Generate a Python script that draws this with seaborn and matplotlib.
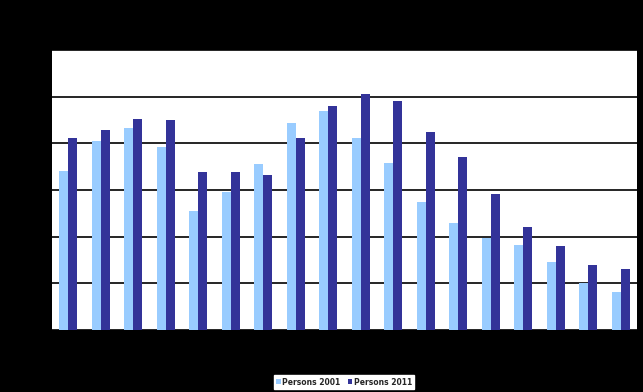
"""Age profile bar chart: persons 2001 vs 2011."""

import matplotlib.pyplot as plt
import pandas as pd
import seaborn as sns

age_groups = ['0-4', '5-9', '10-14', '15-19', '20-24', '25-29', '30-34', '35-39', '40-44',
              '45-49', '50-54', '55-59', '60-64', '65-69', '70-74', '75-79', '80-84', '85+']
persons_2001 = [3.40, 4.06, 4.34, 3.93, 2.56, 2.97, 3.57, 4.43, 4.69,
                4.11, 3.59, 2.75, 2.30, 1.98, 1.83, 1.45, 1.00, 0.81]
persons_2011 = [4.11, 4.28, 4.53, 4.51, 3.38, 3.38, 3.33, 4.11, 4.81,
                5.05, 4.92, 4.25, 3.70, 2.91, 2.22, 1.81, 1.39, 1.30]
series = ['Persons 2001', 'Persons 2011']
colours = ['#99ccff', '#333399']

df = pd.DataFrame({
    'age': age_groups * 2,
    'value': persons_2001 + persons_2011,
    'series': [series[0]] * len(age_groups) + [series[1]] * len(age_groups),
})

sns.set_style('white')
fig = plt.figure(figsize=(6.43, 3.92), dpi=100, facecolor='black')
ax = fig.add_axes([0.0809, 0.158, 0.91, 0.714])
ax.set_facecolor('white')

sns.barplot(data=df, x='age', y='value', hue='series', palette=colours,
            width=0.56, saturation=1, linewidth=0, ax=ax, legend=True)

ax.set_ylim(0, 6)
ax.set_xlim(-0.5, len(age_groups) - 0.5)
ax.set_yticks(range(0, 7))
ax.yaxis.grid(True, color='black', linewidth=1.2)
ax.set_axisbelow(True)
ax.set_xlabel('')
ax.set_ylabel('')
ax.tick_params(colors='black', labelsize=7, length=0)
for side in ['top', 'right', 'left', 'bottom']:
    ax.spines[side].set_visible(False)

# Legend in a small white box under the chart
handles, labels = ax.get_legend_handles_labels()
ax.get_legend().remove()
fig.legend(handles, labels, loc='center', bbox_to_anchor=(0.535, 0.0255), ncol=2,
           frameon=True, fancybox=False, framealpha=1, edgecolor='white', facecolor='white',
           prop={'size': 5.5, 'weight': 'bold'}, handlelength=0.6, handleheight=0.6,
           handletextpad=0.15, columnspacing=1.0, borderpad=0.35, borderaxespad=0)

fig.savefig('out.png', dpi=100, facecolor='black')
plt.close(fig)
